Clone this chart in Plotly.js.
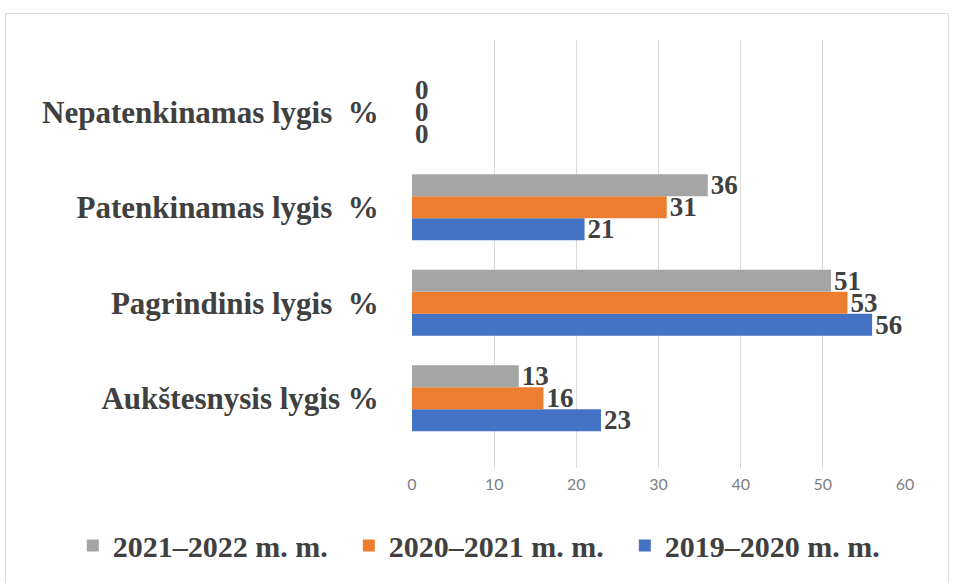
<!DOCTYPE html>
<html>
<head>
<meta charset="utf-8">
<script src="https://cdn.plot.ly/plotly-3.0.1.min.js"></script>
<style>
html,body{margin:0;padding:0;background:#fff;}
#wrap{position:relative;width:955px;height:583px;}
#chart{width:955px;height:583px;}
#frame{position:absolute;left:5px;top:13px;width:944px;height:575px;border:1px solid #d9d9d9;pointer-events:none;box-sizing:border-box;}
</style>
</head>
<body>
<div id="wrap"><div id="chart"></div><div id="frame"></div></div>
<script>
const categories = ["Aukštesnysis lygis %", "Pagrindinis lygis  %", "Patenkinamas lygis  %", "Nepatenkinamas lygis  %"];
const series2019 = [23, 56, 21, 0];
const series2020 = [16, 53, 31, 0];
const series2021 = [13, 51, 36, 0];
const seriesNames = ["2019–2020 m. m.", "2020–2021 m. m.", "2021–2022 m. m."];
const seriesColors = ["#4472C4", "#ED7D31", "#A5A5A5"];
const tickVals = [0, 10, 20, 30, 40, 50, 60];

const allSeries = [series2019, series2020, series2021];
const labelFont = {family: "Liberation Serif, serif", size: 27, color: "#404040", weight: "bold"};
const traces = allSeries.map((vals, i) => ({
  type: "bar",
  orientation: "h",
  name: seriesNames[i],
  y: categories,
  x: vals,
  text: vals.map(String),
  textposition: "outside",
  constraintext: "none",
  textfont: labelFont,
  cliponaxis: false,
  marker: {color: seriesColors[i], line: {width: 0}},
  hoverinfo: "x+name"
}));

const layout = {
  width: 955, height: 583,
  margin: {l: 412, r: 50, t: 40, b: 113},
  paper_bgcolor: "#fff", plot_bgcolor: "#fff",
  barmode: "group",
  bargap: 0.31,
  bargroupgap: 0,
  showlegend: true,
  legend: {
    orientation: "h", traceorder: "reversed",
    x: -0.688, xref: "paper", xanchor: "left",
    y: -0.181, yref: "paper", yanchor: "middle",
    font: {family: "Liberation Serif, serif", size: 30, color: "#404040", weight: "bold"},
    itemwidth: 30,
    entrywidth: 231, entrywidthmode: "pixels"
  },
  xaxis: {
    range: [0, 60],
    tickvals: tickVals,
    ticktext: tickVals.map(String),
    showgrid: true, gridcolor: "#d9d9d9", gridwidth: 1,
    zeroline: false, showline: false,
    ticks: "outside", ticklen: 2, tickcolor: "rgba(0,0,0,0)",
    tickfont: {family: "Lato, Liberation Sans, sans-serif", size: 16, color: "#7f7f7f"}
  },
  yaxis: {
    type: "category",
    range: [-0.73, 3.75],
    showgrid: false, zeroline: false, showline: false,
    ticks: "outside", ticklen: 26, tickcolor: "rgba(0,0,0,0)",
    tickfont: {family: "Liberation Serif, serif", size: 31, color: "#404040", weight: "bold"}
  }
};
Plotly.newPlot("chart", traces, layout, {displayModeBar: false, staticPlot: true});
</script>
</body>
</html>
